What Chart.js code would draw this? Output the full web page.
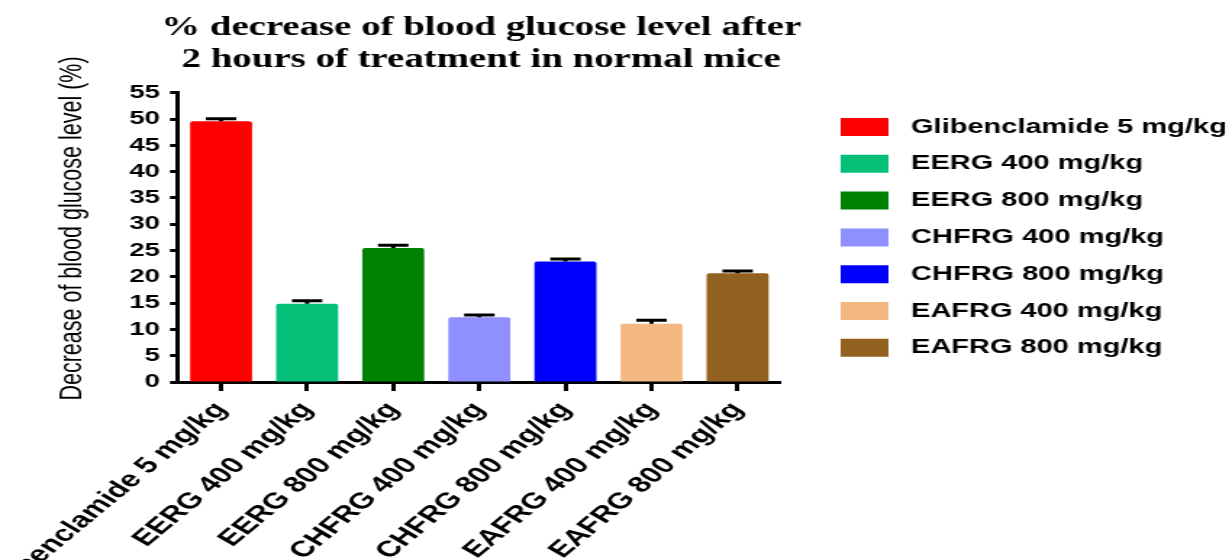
<!DOCTYPE html>
<html lang="en">
<head>
    <meta charset="UTF-8">
    <title>% decrease of blood glucose level</title>
    <script src="https://cdn.jsdelivr.net/npm/chart.js"></script>
    <style>
        html, body { margin: 0; padding: 0; background: #fff; overflow: hidden; }
        /* the original figure is stretched sideways, so the canvas is drawn narrow and scaled */
        #glucoseChart { display: block; transform: scaleX(1.4494); transform-origin: 0 0; }
    </style>
</head>
<body>
    <canvas id="glucoseChart" width="850" height="560"></canvas>

    <script>
        const categories = ['Glibenclamide 5 mg/kg', 'EERG 400 mg/kg', 'EERG 800 mg/kg', 'CHFRG 400 mg/kg',
                            'CHFRG 800 mg/kg', 'EAFRG 400 mg/kg', 'EAFRG 800 mg/kg'];
        const meanDecrease = [49.6, 14.9, 25.5, 12.3, 22.9, 11.1, 20.7];
        const semDecrease = [0.45, 0.55, 0.5, 0.45, 0.5, 0.65, 0.4];
        const yTicks = [0, 5, 10, 15, 20, 25, 30, 35, 40, 45, 50, 55];
        const barColors = ['#ff0000', '#05bf78', '#008000', '#8f8fff', '#0000ff', '#f2b880', '#946220'];

        const sansFont = '"Liberation Sans", Arial, sans-serif';
        Chart.defaults.font.family = sansFont;
        Chart.defaults.color = '#000';

        // upper error bars (mean + SEM), drawn with the y scale
        const errorBars = {
            id: 'errorBars',
            afterDatasetsDraw(chart) {
                const ctx = chart.ctx;
                const y = chart.scales.y;
                const meta = chart.getDatasetMeta(0);
                ctx.save();
                ctx.strokeStyle = '#000';
                ctx.lineWidth = 3;
                meta.data.forEach((bar, i) => {
                    const base = y.getPixelForValue(meanDecrease[i]);
                    const top = y.getPixelForValue(meanDecrease[i] + semDecrease[i]);
                    ctx.beginPath();
                    ctx.moveTo(bar.x, base);
                    ctx.lineTo(bar.x, top);
                    ctx.moveTo(bar.x - 10.5, top);
                    ctx.lineTo(bar.x + 10.5, top);
                    ctx.stroke();
                });
                ctx.restore();
            }
        };

        // the title is centred over the plot only, so the right padding keeps it there;
        // the legend is then pushed out past that padding
        const legendGap = {
            id: 'legendGap',
            afterLayout(chart) {
                chart.legend.left = chart.chartArea.right + 24.6;
                chart.legend.right = chart.width;
            }
        };

        new Chart(document.getElementById('glucoseChart'), {
            type: 'bar',
            data: {
                labels: categories,
                datasets: [{
                    label: '% decrease',
                    data: meanDecrease,
                    backgroundColor: barColors,
                    borderWidth: 0,
                    borderRadius: 2,
                    categoryPercentage: 1,
                    barPercentage: 0.72
                }]
            },
            plugins: [errorBars, legendGap],
            options: {
                responsive: false,
                animation: false,
                devicePixelRatio: 1,
                layout: { padding: { left: 0, top: 0, bottom: 0, right: 186 } },
                plugins: {
                    title: {
                        display: true,
                        text: ['% decrease of blood glucose level after', '2 hours of treatment in normal mice'],
                        color: '#000',
                        font: { family: '"Liberation Serif", "Times New Roman", serif', size: 26.8, weight: 'bold', lineHeight: 1.2 },
                        padding: { top: 12, bottom: 16.5 }
                    },
                    legend: {
                        position: 'right',
                        align: 'center',
                        fullSize: false,
                        maxWidth: 125.4,
                        labels: {
                            boxWidth: 33,
                            boxHeight: 18,
                            padding: 16.8,
                            color: '#000',
                            useBorderRadius: true,
                            borderRadius: 2,
                            font: { size: 20, weight: 'bold' },
                            generateLabels: () => categories.map((name, i) => ({
                                text: ' ' + name,
                                fillStyle: barColors[i],
                                strokeStyle: barColors[i],
                                lineWidth: 0,
                                hidden: false,
                                index: i
                            }))
                        }
                    },
                    tooltip: { enabled: false }
                },
                scales: {
                    x: {
                        grid: { drawOnChartArea: false, offset: false, tickLength: 9, tickWidth: 3, tickColor: '#000' },
                        border: { color: '#000', width: 3 },
                        ticks: { color: '#000', autoSkip: false, maxRotation: 50, minRotation: 50, padding: 6,
                                 font: { size: 22.5, weight: 'bold' } },
                        afterFit(scale) {
                            scale.height = 178;
                            scale.paddingLeft = 0;
                            scale.paddingRight = 0;
                        }
                    },
                    y: {
                        min: 0,
                        max: 55,
                        afterBuildTicks(scale) {
                            scale.ticks = yTicks.map(v => ({ value: v }));
                        },
                        grid: { drawOnChartArea: false, tickLength: 5.5, tickWidth: 3, tickColor: '#000' },
                        border: { color: '#000', width: 3 },
                        ticks: { color: '#000', padding: 7, font: { size: 19, weight: 'bold' } },
                        title: {
                            display: true,
                            text: '   Decrease of blood glucose level (%)',
                            color: '#000',
                            font: { size: 21.5, weight: 'normal' },
                            padding: { top: 37, bottom: 0 }
                        },
                        afterFit(scale) {
                            scale.width = 122.8;
                        }
                    }
                }
            }
        });
    </script>
</body>
</html>
